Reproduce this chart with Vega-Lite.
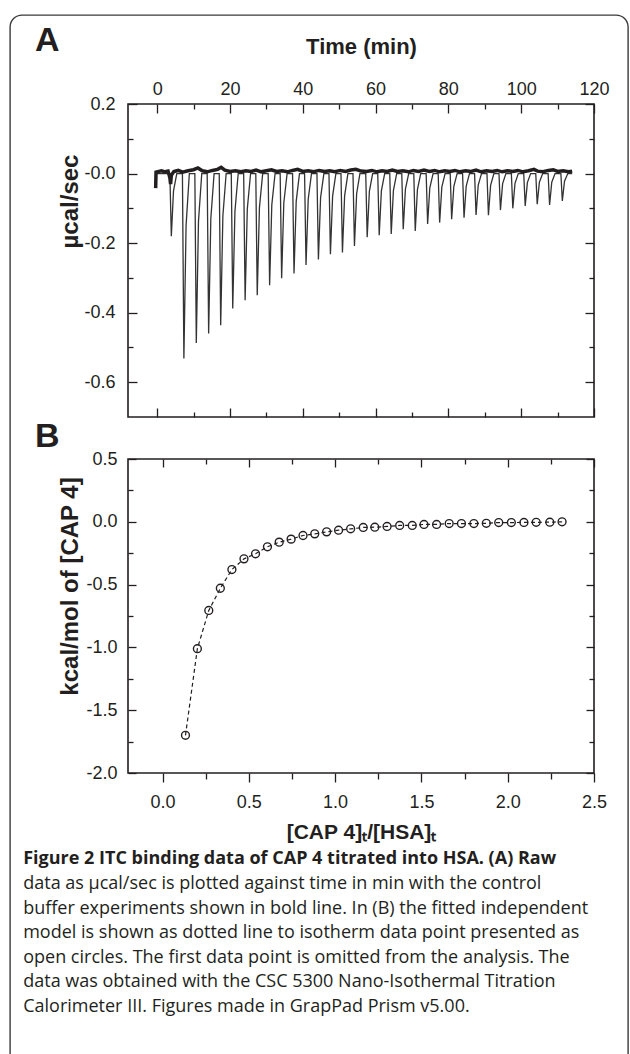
{
  "$schema": "https://vega.github.io/schema/vega-lite/v6.json",
  "background": "white",
  "padding": {"left": 9, "top": 14, "right": 0, "bottom": 0},
  "config": {
    "view": {"stroke": "#231f20", "strokeWidth": 1.6},
    "font": "Liberation Sans",
    "axis": {"domain": false, "grid": false, "labelFont": "Liberation Sans", "labelFontSize": 18, "labelColor": "#231f20", "tickColor": "#231f20", "tickWidth": 1.3, "titleFont": "Liberation Sans", "titleFontSize": 21, "titleFontWeight": "bold", "titleColor": "#231f20", "labelFlush": false, "labelOverlap": false}
  },
  "datasets": {
    "blank": [{"k": 0}],
    "sample": [
      {"t": 0, "v": 0},
      {"t": 3.5, "v": 0}, {"t": 3.9, "v": -0.18}, {"t": 4.5, "v": -0.05}, {"t": 5.4, "v": 0},
      {"t": 6.95, "v": 0}, {"t": 7.35, "v": -0.532}, {"t": 7.95, "v": -0.15}, {"t": 8.85, "v": 0},
      {"t": 10.36, "v": 0}, {"t": 10.76, "v": -0.487}, {"t": 11.36, "v": -0.137}, {"t": 12.26, "v": 0},
      {"t": 13.75, "v": 0}, {"t": 14.15, "v": -0.46}, {"t": 14.75, "v": -0.129}, {"t": 15.65, "v": 0},
      {"t": 17.06, "v": 0}, {"t": 17.46, "v": -0.436}, {"t": 18.06, "v": -0.122}, {"t": 18.96, "v": 0},
      {"t": 20.37, "v": 0}, {"t": 20.77, "v": -0.388}, {"t": 21.37, "v": -0.109}, {"t": 22.27, "v": 0},
      {"t": 23.77, "v": 0}, {"t": 24.17, "v": -0.364}, {"t": 24.77, "v": -0.102}, {"t": 25.67, "v": 0},
      {"t": 27.1, "v": 0}, {"t": 27.5, "v": -0.35}, {"t": 28.1, "v": -0.098}, {"t": 29.0, "v": 0},
      {"t": 30.5, "v": 0}, {"t": 30.9, "v": -0.321}, {"t": 31.5, "v": -0.09}, {"t": 32.4, "v": 0},
      {"t": 33.8, "v": 0}, {"t": 34.2, "v": -0.301}, {"t": 34.8, "v": -0.084}, {"t": 35.7, "v": 0},
      {"t": 37.2, "v": 0}, {"t": 37.6, "v": -0.287}, {"t": 38.2, "v": -0.08}, {"t": 39.1, "v": 0},
      {"t": 40.5, "v": 0}, {"t": 40.9, "v": -0.263}, {"t": 41.5, "v": -0.074}, {"t": 42.4, "v": 0},
      {"t": 43.9, "v": 0}, {"t": 44.3, "v": -0.247}, {"t": 44.9, "v": -0.069}, {"t": 45.8, "v": 0},
      {"t": 47.2, "v": 0}, {"t": 47.6, "v": -0.232}, {"t": 48.2, "v": -0.065}, {"t": 49.1, "v": 0},
      {"t": 50.5, "v": 0}, {"t": 50.9, "v": -0.227}, {"t": 51.5, "v": -0.064}, {"t": 52.4, "v": 0},
      {"t": 53.8, "v": 0}, {"t": 54.2, "v": -0.208}, {"t": 54.8, "v": -0.058}, {"t": 55.7, "v": 0},
      {"t": 57.3, "v": 0}, {"t": 57.7, "v": -0.183}, {"t": 58.3, "v": -0.051}, {"t": 59.2, "v": 0},
      {"t": 60.6, "v": 0}, {"t": 61.0, "v": -0.177}, {"t": 61.6, "v": -0.05}, {"t": 62.5, "v": 0},
      {"t": 63.9, "v": 0}, {"t": 64.3, "v": -0.174}, {"t": 64.9, "v": -0.049}, {"t": 65.8, "v": 0},
      {"t": 67.2, "v": 0}, {"t": 67.6, "v": -0.16}, {"t": 68.2, "v": -0.045}, {"t": 69.1, "v": 0},
      {"t": 70.5, "v": 0}, {"t": 70.9, "v": -0.165}, {"t": 71.5, "v": -0.046}, {"t": 72.4, "v": 0},
      {"t": 73.9, "v": 0}, {"t": 74.3, "v": -0.145}, {"t": 74.9, "v": -0.041}, {"t": 75.8, "v": 0},
      {"t": 77.2, "v": 0}, {"t": 77.6, "v": -0.141}, {"t": 78.2, "v": -0.039}, {"t": 79.1, "v": 0},
      {"t": 80.5, "v": 0}, {"t": 80.9, "v": -0.131}, {"t": 81.5, "v": -0.037}, {"t": 82.4, "v": 0},
      {"t": 83.9, "v": 0}, {"t": 84.3, "v": -0.127}, {"t": 84.9, "v": -0.036}, {"t": 85.8, "v": 0},
      {"t": 87.2, "v": 0}, {"t": 87.6, "v": -0.119}, {"t": 88.2, "v": -0.033}, {"t": 89.1, "v": 0},
      {"t": 90.6, "v": 0}, {"t": 91.0, "v": -0.12}, {"t": 91.6, "v": -0.034}, {"t": 92.5, "v": 0},
      {"t": 93.9, "v": 0}, {"t": 94.3, "v": -0.105}, {"t": 94.9, "v": -0.029}, {"t": 95.8, "v": 0},
      {"t": 97.3, "v": 0}, {"t": 97.7, "v": -0.1}, {"t": 98.3, "v": -0.028}, {"t": 99.2, "v": 0},
      {"t": 100.7, "v": 0}, {"t": 101.1, "v": -0.093}, {"t": 101.7, "v": -0.026}, {"t": 102.6, "v": 0},
      {"t": 104.0, "v": 0}, {"t": 104.4, "v": -0.088}, {"t": 105.0, "v": -0.025}, {"t": 105.9, "v": 0},
      {"t": 107.4, "v": 0}, {"t": 107.8, "v": -0.09}, {"t": 108.4, "v": -0.025}, {"t": 109.3, "v": 0},
      {"t": 110.9, "v": 0}, {"t": 111.3, "v": -0.079}, {"t": 111.9, "v": -0.022}, {"t": 112.8, "v": 0},
      {"t": 114.0, "v": 0}
    ],
    "control": [
      {"t": -0.4, "v": -0.042}, {"t": -0.3, "v": 0.004}, {"t": 1.2, "v": 0.008}, {"t": 2.2, "v": 0.005},
      {"t": 3.0, "v": 0.007}, {"t": 3.5, "v": -0.012}, {"t": 3.7, "v": -0.03}, {"t": 3.9, "v": -0.005},
      {"t": 4.6, "v": 0.006}, {"t": 5.8, "v": 0.009}, {"t": 7.0, "v": 0.004}, {"t": 8.5, "v": 0.008},
      {"t": 10.0, "v": 0.011}, {"t": 11.2, "v": 0.016}, {"t": 12.4, "v": 0.008}, {"t": 13.8, "v": 0.005},
      {"t": 15.2, "v": 0.009}, {"t": 16.6, "v": 0.012}, {"t": 17.6, "v": 0.018}, {"t": 18.6, "v": 0.01},
      {"t": 20.0, "v": 0.006}, {"t": 21.5, "v": 0.008}, {"t": 23.0, "v": 0.005}, {"t": 24.4, "v": 0.008},
      {"t": 25.8, "v": 0.006}, {"t": 27.2, "v": 0.01}, {"t": 28.6, "v": 0.005}, {"t": 30.0, "v": 0.008},
      {"t": 31.4, "v": 0.011}, {"t": 32.8, "v": 0.006}, {"t": 34.3, "v": 0.008}, {"t": 35.8, "v": 0.005},
      {"t": 37.2, "v": 0.009}, {"t": 38.6, "v": 0.012}, {"t": 40.0, "v": 0.006}, {"t": 41.5, "v": 0.008},
      {"t": 43.0, "v": 0.005}, {"t": 44.5, "v": 0.009}, {"t": 46.0, "v": 0.006}, {"t": 47.4, "v": 0.008},
      {"t": 48.8, "v": 0.005}, {"t": 50.3, "v": 0.009}, {"t": 51.8, "v": 0.006}, {"t": 53.2, "v": 0.01},
      {"t": 54.6, "v": 0.012}, {"t": 56.0, "v": 0.007}, {"t": 57.5, "v": 0.006}, {"t": 59.0, "v": 0.009},
      {"t": 60.4, "v": 0.005}, {"t": 61.8, "v": 0.008}, {"t": 63.2, "v": 0.006}, {"t": 64.6, "v": 0.01},
      {"t": 66.0, "v": 0.006}, {"t": 67.5, "v": 0.008}, {"t": 69.0, "v": 0.005}, {"t": 70.4, "v": 0.009},
      {"t": 71.8, "v": 0.006}, {"t": 73.3, "v": 0.01}, {"t": 74.8, "v": 0.006}, {"t": 76.2, "v": 0.009},
      {"t": 77.6, "v": 0.005}, {"t": 79.0, "v": 0.008}, {"t": 80.4, "v": 0.006}, {"t": 81.8, "v": 0.009},
      {"t": 83.2, "v": 0.005}, {"t": 84.7, "v": 0.008}, {"t": 86.2, "v": 0.006}, {"t": 87.6, "v": 0.01},
      {"t": 89.0, "v": 0.005}, {"t": 90.5, "v": 0.008}, {"t": 92.0, "v": 0.006}, {"t": 93.4, "v": 0.009},
      {"t": 94.8, "v": 0.005}, {"t": 96.2, "v": 0.008}, {"t": 97.7, "v": 0.006}, {"t": 99.1, "v": 0.009},
      {"t": 100.5, "v": 0.005}, {"t": 102.0, "v": 0.008}, {"t": 103.5, "v": 0.012}, {"t": 104.5, "v": 0.007},
      {"t": 106.0, "v": 0.005}, {"t": 107.5, "v": 0.009}, {"t": 108.8, "v": 0.011}, {"t": 110.0, "v": 0.006},
      {"t": 111.5, "v": 0.008}, {"t": 113.0, "v": 0.005}, {"t": 114.0, "v": 0.007}
    ],
    "iso": [
      {"ratio": 0.133, "heat": -1.70}, {"ratio": 0.202, "heat": -1.01}, {"ratio": 0.268, "heat": -0.706},
      {"ratio": 0.335, "heat": -0.529}, {"ratio": 0.402, "heat": -0.38}, {"ratio": 0.472, "heat": -0.295},
      {"ratio": 0.539, "heat": -0.255}, {"ratio": 0.608, "heat": -0.199}, {"ratio": 0.676, "heat": -0.162},
      {"ratio": 0.745, "heat": -0.138}, {"ratio": 0.814, "heat": -0.109}, {"ratio": 0.882, "heat": -0.096},
      {"ratio": 0.951, "heat": -0.08}, {"ratio": 1.02, "heat": -0.067}, {"ratio": 1.09, "heat": -0.056},
      {"ratio": 1.163, "heat": -0.045}, {"ratio": 1.23, "heat": -0.043}, {"ratio": 1.301, "heat": -0.037},
      {"ratio": 1.374, "heat": -0.029}, {"ratio": 1.447, "heat": -0.029}, {"ratio": 1.515, "heat": -0.021},
      {"ratio": 1.588, "heat": -0.021}, {"ratio": 1.661, "heat": -0.014}, {"ratio": 1.732, "heat": -0.014},
      {"ratio": 1.804, "heat": -0.014}, {"ratio": 1.876, "heat": -0.012}, {"ratio": 1.948, "heat": -0.006},
      {"ratio": 2.021, "heat": -0.006}, {"ratio": 2.094, "heat": -0.005}, {"ratio": 2.165, "heat": -0.004},
      {"ratio": 2.244, "heat": -0.003}, {"ratio": 2.315, "heat": 0.0}
    ]
  },
  "columns": 2,
  "align": "none",
  "spacing": -606,
  "concat": [
    {
      "width": 618,
      "height": 1060,
      "view": {"stroke": "#3a3a3a", "strokeWidth": 1.4, "cornerRadius": 12},
      "data": {"name": "blank"},
      "mark": {"type": "point", "opacity": 0},
      "encoding": {}
    },
    {
      "title": {
        "text": "Figure 2 ITC binding data of CAP 4 titrated into HSA. (A) Raw",
        "subtitle": [
          "data as µcal/sec is plotted against time in min with the control",
          "buffer experiments shown in bold line. In (B) the fitted independent",
          "model is shown as dotted line to isotherm data point presented as",
          "open circles. The first data point is omitted from the analysis. The",
          "data was obtained with the CSC 5300 Nano-Isothermal Titration",
          "Calorimeter III. Figures made in GrapPad Prism v5.00."
        ],
        "orient": "bottom", "anchor": "start", "frame": "bounds", "dx": -11, "offset": 7, "baseline": "top",
        "font": "Open Sans", "fontSize": 18, "fontWeight": "bold", "color": "#231f20",
        "subtitleFont": "Open Sans", "subtitleFontSize": 18, "subtitleFontWeight": "normal", "subtitleColor": "#231f20",
        "subtitleLineHeight": 24.5, "subtitlePadding": 7.4
      },
      "spacing": 0,
      "vconcat": [
        {
          "width": 1,
          "height": 8,
          "view": {"stroke": null},
          "data": {"name": "blank"},
          "mark": {"type": "point", "opacity": 0},
          "encoding": {}
        },
        {
          "width": 466,
          "height": 313,
          "title": {"text": "A", "anchor": "start", "frame": "group", "dx": -93, "baseline": "alphabetic", "offset": -50, "font": "Liberation Sans", "fontSize": 34, "fontWeight": "bold", "color": "#231f20"},
          "layer": [
            {
              "data": {"name": "sample"},
              "mark": {"type": "line", "color": "#333333", "strokeWidth": 1.3},
              "encoding": {
                "x": {"field": "t", "type": "quantitative", "scale": {"domain": [-8, 120], "nice": false, "zero": false},
                      "axis": {"orient": "top", "title": "Time (min)", "titleFontSize": 22, "values": [0, 20, 40, 60, 80, 100, 120], "tickSize": -9, "labelPadding": 15, "titlePadding": 22}},
                "y": {"field": "v", "type": "quantitative", "scale": {"domain": [-0.7, 0.2], "nice": false, "zero": false},
                      "axis": {"orient": "left", "title": "µcal/sec", "titleFontSize": 24, "values": [0.2, 0, -0.2, -0.4, -0.6], "tickSize": -9, "labelPadding": 22,
                               "labelExpr": "datum.value == 0 ? '-0.0' : (datum.value < 0 ? '-' + format(-datum.value, '.1f') : format(datum.value, '.1f'))",
                               "titleX": -58, "titleY": 97, "titleAlign": "center", "titleBaseline": "middle"}}
              }
            },
            {
              "data": {"name": "control"},
              "mark": {"type": "line", "color": "#231f20", "strokeWidth": 3.5},
              "encoding": {
                "x": {"field": "t", "type": "quantitative", "scale": {"domain": [-8, 120], "nice": false, "zero": false},
                      "axis": {"orient": "bottom", "title": null, "labels": false, "values": [0, 20, 40, 60, 80, 100, 120], "tickSize": -9}},
                "y": {"field": "v", "type": "quantitative", "scale": {"domain": [-0.7, 0.2], "nice": false, "zero": false},
                      "axis": {"orient": "right", "title": null, "labels": false, "values": [0.2, 0, -0.2, -0.4, -0.6], "tickSize": -9}}
              }
            },
            {
              "data": {"name": "control"},
              "mark": {"type": "line", "opacity": 0},
              "encoding": {
                "x": {"field": "t", "type": "quantitative", "scale": {"domain": [-8, 120], "nice": false, "zero": false},
                      "axis": {"orient": "top", "title": null, "labels": false, "values": [10, 30, 50, 70, 90, 110], "tickSize": -5}},
                "y": {"field": "v", "type": "quantitative", "scale": {"domain": [-0.7, 0.2], "nice": false, "zero": false},
                      "axis": {"orient": "left", "title": null, "labels": false, "values": [0.1, -0.1, -0.3, -0.5], "tickSize": -5}}
              }
            },
            {
              "data": {"name": "control"},
              "mark": {"type": "line", "opacity": 0},
              "encoding": {
                "x": {"field": "t", "type": "quantitative", "scale": {"domain": [-8, 120], "nice": false, "zero": false},
                      "axis": {"orient": "bottom", "title": null, "labels": false, "values": [10, 30, 50, 70, 90, 110], "tickSize": -5}},
                "y": {"field": "v", "type": "quantitative", "scale": {"domain": [-0.7, 0.2], "nice": false, "zero": false},
                      "axis": {"orient": "right", "title": null, "labels": false, "values": [0.1, -0.1, -0.3, -0.5], "tickSize": -5}}
              }
            }
          ],
          "resolve": {"axis": {"x": "independent", "y": "independent"}}
        },
        {
          "width": 466,
          "height": 314,
          "title": {"text": "B", "anchor": "start", "frame": "group", "dx": -93, "baseline": "alphabetic", "offset": -31, "font": "Liberation Sans", "fontSize": 34, "fontWeight": "bold", "color": "#231f20"},
          "layer": [
            {
              "data": {"name": "iso"},
              "mark": {"type": "line", "color": "#231f20", "strokeWidth": 1.2, "strokeDash": [4, 3]},
              "encoding": {
                "x": {"field": "ratio", "type": "quantitative", "scale": {"domain": [-0.2, 2.5], "nice": false, "zero": false},
                      "axis": {"orient": "bottom", "title": "[CAP 4]ₜ/[HSA]ₜ", "values": [0, 0.5, 1, 1.5, 2, 2.5], "format": ".1f", "tickSize": 9, "labelPadding": 11, "titlePadding": 10}},
                "y": {"field": "heat", "type": "quantitative", "scale": {"domain": [-2, 0.5], "nice": false, "zero": false},
                      "axis": {"orient": "left", "title": "kcal/mol of [CAP 4]", "titleFontSize": 24, "values": [0.5, 0, -0.5, -1, -1.5, -2], "tickSize": -8, "labelPadding": 19,
                               "labelExpr": "datum.value < 0 ? '-' + format(-datum.value, '.1f') : format(datum.value, '.1f')",
                               "titleX": -58, "titleY": 127, "titleAlign": "center", "titleBaseline": "middle"}}
              }
            },
            {
              "data": {"name": "iso"},
              "mark": {"type": "point", "shape": "circle", "filled": false, "size": 62, "color": "#231f20", "strokeWidth": 1.4, "opacity": 1},
              "encoding": {
                "x": {"field": "ratio", "type": "quantitative", "scale": {"domain": [-0.2, 2.5], "nice": false, "zero": false},
                      "axis": {"orient": "top", "title": null, "labels": false, "values": [0, 0.5, 1, 1.5, 2, 2.5], "tickSize": -8}},
                "y": {"field": "heat", "type": "quantitative", "scale": {"domain": [-2, 0.5], "nice": false, "zero": false},
                      "axis": {"orient": "right", "title": null, "labels": false, "values": [0.5, 0, -0.5, -1, -1.5, -2], "tickSize": -8}}
              }
            },
            {
              "data": {"name": "iso"},
              "mark": {"type": "point", "opacity": 0},
              "encoding": {
                "x": {"field": "ratio", "type": "quantitative", "scale": {"domain": [-0.2, 2.5], "nice": false, "zero": false},
                      "axis": {"orient": "bottom", "title": null, "labels": false, "values": [0.25, 0.75, 1.25, 1.75, 2.25], "tickSize": 6}},
                "y": {"field": "heat", "type": "quantitative", "scale": {"domain": [-2, 0.5], "nice": false, "zero": false},
                      "axis": {"orient": "left", "title": null, "labels": false, "values": [0.25, -0.25, -0.75, -1.25, -1.75], "tickSize": -5}}
              }
            },
            {
              "data": {"name": "iso"},
              "mark": {"type": "point", "opacity": 0},
              "encoding": {
                "x": {"field": "ratio", "type": "quantitative", "scale": {"domain": [-0.2, 2.5], "nice": false, "zero": false},
                      "axis": {"orient": "top", "title": null, "labels": false, "values": [0.25, 0.75, 1.25, 1.75, 2.25], "tickSize": -5}},
                "y": {"field": "heat", "type": "quantitative", "scale": {"domain": [-2, 0.5], "nice": false, "zero": false},
                      "axis": {"orient": "right", "title": null, "labels": false, "values": [0.25, -0.25, -0.75, -1.25, -1.75], "tickSize": -5}}
              }
            }
          ],
          "resolve": {"axis": {"x": "independent", "y": "independent"}}
        }
      ]
    }
  ]
}
